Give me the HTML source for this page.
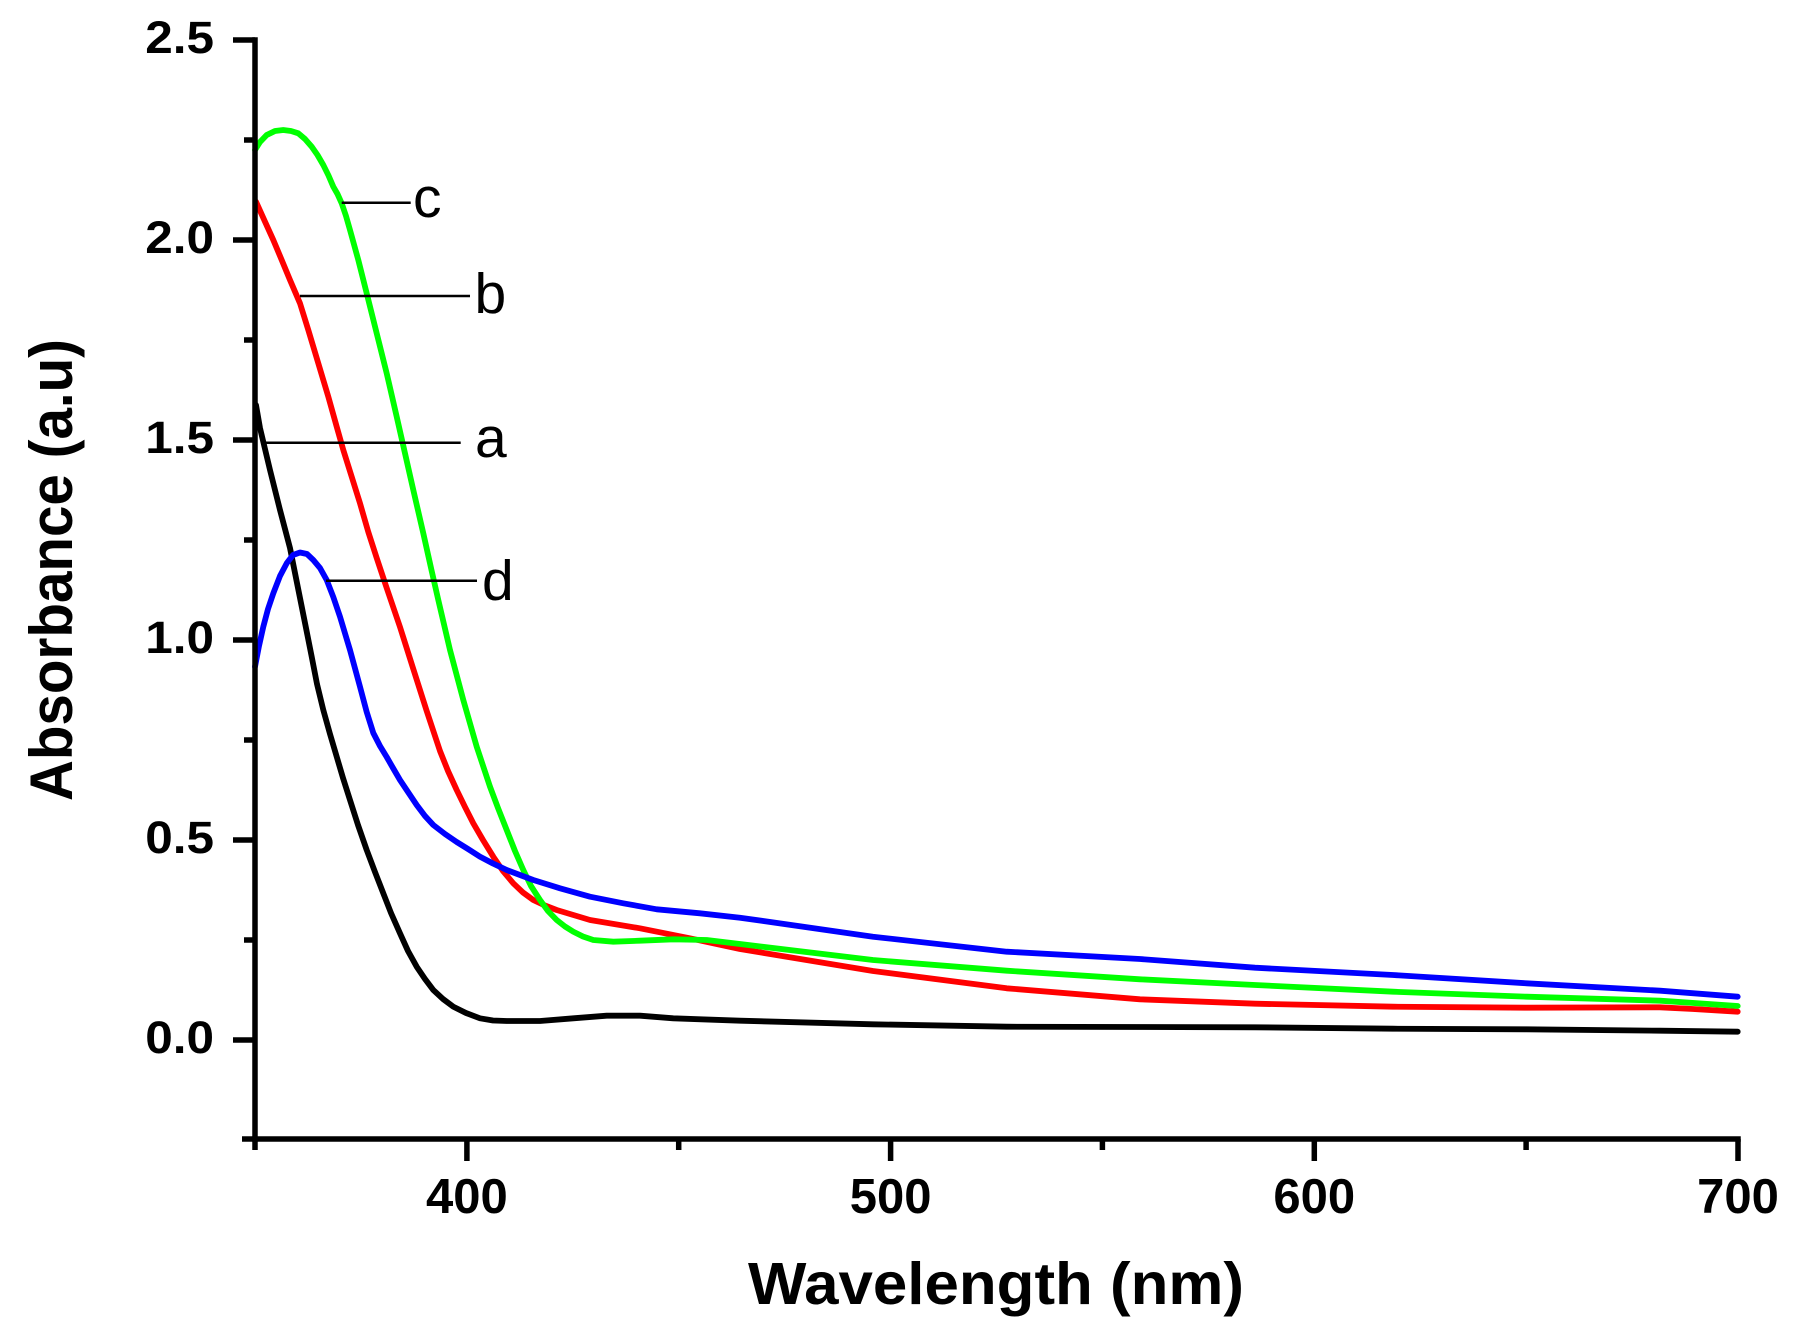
<!DOCTYPE html>
<html>
<head>
<meta charset="utf-8">
<style>
  html,body{margin:0;padding:0;background:#fff;}
  svg{display:block;}
  text{font-family:"Liberation Sans", Arial, sans-serif;fill:#000;}
</style>
</head>
<body>
<svg width="1794" height="1338" viewBox="0 0 1794 1338" xmlns="http://www.w3.org/2000/svg">
  <rect x="0" y="0" width="1794" height="1338" fill="#fff"/>

  <!-- Curves -->
  <g fill="none" stroke-width="5.8" stroke-linejoin="round" stroke-linecap="round">
    <!-- a (black) -->
    <polyline stroke="#000000" points="256,405 260,428 270,470 280,510 290,548 300,598 306,628 311.7,656.7 317,684 323.3,710 330,734 336.7,756.7 343,778 350,800 358,825 366.7,850 375,872 383.3,893.3 391,913 400,933.3 408,951 416.7,966.7 425,979 433.3,990 443,999 453.3,1006.7 466,1013 480,1018.3 493,1020.5 506.7,1021 540,1021 573.3,1018.3 606.7,1015.7 640,1015.7 673.3,1018.3 740,1020.7 873,1024.3 1006.7,1026.7 1140,1027 1255,1027.3 1393,1028.7 1526.7,1029.3 1660,1030.7 1737.7,1031.7"/>
    <!-- b (red) -->
    <polyline stroke="#ff0000" points="256,201.7 265,221.7 273.3,240 281.7,260 290,280 300,303.3 308.3,330 318.3,363.3 328.3,396.7 336.7,426.7 343.3,450 351.7,476.7 360,503.3 368.3,532 376.7,558 386.7,588 400,627 413.3,669 426.7,711 440,751 448,771 456.7,790 465,807 473.3,823.3 483,840 493.3,856.7 503,871 513.3,883.3 523,892.5 533.3,900 545,905.5 556.7,910 590,920 640,928.3 690,938.3 740,949 873,971 1006.7,988.3 1140,999.3 1255,1003.7 1393,1006.7 1526.7,1007.7 1660,1007.3 1693,1009 1737.7,1011.7"/>
    <!-- c (green) -->
    <polyline stroke="#00ff00" points="255,150 260,142 266.7,135 275,131 283.3,130 291,131 298.3,133.3 305,139 311.7,146.7 317.5,155 323.3,165 328.5,175.5 333.3,186.7 337.5,194 341.7,203.3 346,216 350,230 358.3,260 366.7,293.3 376.7,333.3 386.7,373.3 396.7,416.7 405,453.3 413.3,490 423.3,533.3 431.7,571 438.3,600 450,650 463.3,700 476.7,746.7 490,786.7 498,808 506.7,830 515,851 523.3,870 531,886 540,900 548,911 556.7,920 565,926.5 573.3,931.7 583,936.5 593.3,940 613.3,941.7 640,940.7 673.3,939.3 706.7,940 740,944 873,960 1006.7,970.7 1140,979.3 1255,985 1393,991.7 1526.7,996.7 1660,1000.7 1737.7,1006"/>
    <!-- d (blue) -->
    <polyline stroke="#0000ff" points="255,666.7 259,646 263.3,626.7 268,609 273.3,593.3 280,576 286.7,563.3 293,555 300,552.5 307,554 313.3,560 320,568 326.7,580 333.3,597 340,616.7 350,650 360,686.7 366.7,712 373.3,733 380,746 386.7,757 393,768 400,780 408,792 416.7,805 425,816 433.3,825 445,834 456.7,842 468,849 480,856.7 493,863.5 506.7,870 533.3,880 560,888.3 590,896.7 623.3,903.3 656.7,909.3 700,913.3 740,917.7 873,936.7 1006.7,951.7 1140,959 1255,967.7 1393,975 1526.7,983.3 1660,990.7 1737.7,996.7"/>
  </g>

  <!-- Leader lines -->
  <g stroke="#000" stroke-width="2.5" fill="none">
    <line x1="341.7" y1="202.7" x2="410.7" y2="202.7"/>
    <line x1="300" y1="296" x2="470" y2="296"/>
    <line x1="265" y1="442.7" x2="460.7" y2="442.7"/>
    <line x1="326" y1="580.7" x2="477" y2="580.7"/>
  </g>
  <g font-size="57">
    <text x="413" y="217">c</text>
    <text x="474.5" y="313">b</text>
    <text x="475" y="457">a</text>
    <text x="482" y="600">d</text>
  </g>

  <!-- Axes -->
  <g stroke="#000" stroke-width="5.5" fill="none" stroke-linecap="square">
    <line x1="255" y1="40" x2="255" y2="1139"/>
    <line x1="255" y1="1139" x2="1738" y2="1139"/>
  </g>
  <g stroke="#000" stroke-width="5.5" fill="none">
    <!-- y major ticks -->
    <line x1="233" y1="40" x2="255" y2="40"/>
    <line x1="233" y1="240" x2="255" y2="240"/>
    <line x1="233" y1="440" x2="255" y2="440"/>
    <line x1="233" y1="640" x2="255" y2="640"/>
    <line x1="233" y1="840" x2="255" y2="840"/>
    <line x1="233" y1="1040" x2="255" y2="1040"/>
    <!-- y minor ticks -->
    <line x1="244" y1="140" x2="255" y2="140"/>
    <line x1="244" y1="340" x2="255" y2="340"/>
    <line x1="244" y1="540" x2="255" y2="540"/>
    <line x1="244" y1="740" x2="255" y2="740"/>
    <line x1="244" y1="940" x2="255" y2="940"/>
    <line x1="242" y1="1139" x2="255" y2="1139"/>
    <!-- x major ticks -->
    <line x1="466.9" y1="1139" x2="466.9" y2="1161"/>
    <line x1="890.6" y1="1139" x2="890.6" y2="1161"/>
    <line x1="1314.3" y1="1139" x2="1314.3" y2="1161"/>
    <line x1="1738" y1="1139" x2="1738" y2="1161"/>
    <!-- x minor ticks -->
    <line x1="255" y1="1139" x2="255" y2="1150"/>
    <line x1="678.7" y1="1139" x2="678.7" y2="1150"/>
    <line x1="1102.4" y1="1139" x2="1102.4" y2="1150"/>
    <line x1="1526.1" y1="1139" x2="1526.1" y2="1150"/>
  </g>

  <!-- Y tick labels -->
  <g font-size="45" font-weight="bold" text-anchor="end">
    <text transform="translate(214,53) scale(1.1,1)">2.5</text>
    <text transform="translate(214,253) scale(1.1,1)">2.0</text>
    <text transform="translate(214,453) scale(1.1,1)">1.5</text>
    <text transform="translate(214,653) scale(1.1,1)">1.0</text>
    <text transform="translate(214,853) scale(1.1,1)">0.5</text>
    <text transform="translate(214,1053) scale(1.1,1)">0.0</text>
  </g>

  <!-- X tick labels -->
  <g font-size="49" font-weight="bold" text-anchor="middle">
    <text x="466.9" y="1213">400</text>
    <text x="890.6" y="1213">500</text>
    <text x="1314.3" y="1213">600</text>
    <text x="1738" y="1213">700</text>
  </g>

  <!-- Axis titles -->
  <text x="996" y="1304" font-size="59" font-weight="bold" text-anchor="middle" textLength="496" lengthAdjust="spacingAndGlyphs">Wavelength (nm)</text>
  <text transform="translate(72,570) rotate(-90)" font-size="60" font-weight="bold" text-anchor="middle" textLength="462" lengthAdjust="spacingAndGlyphs">Absorbance (a.u)</text>
</svg>
</body>
</html>
